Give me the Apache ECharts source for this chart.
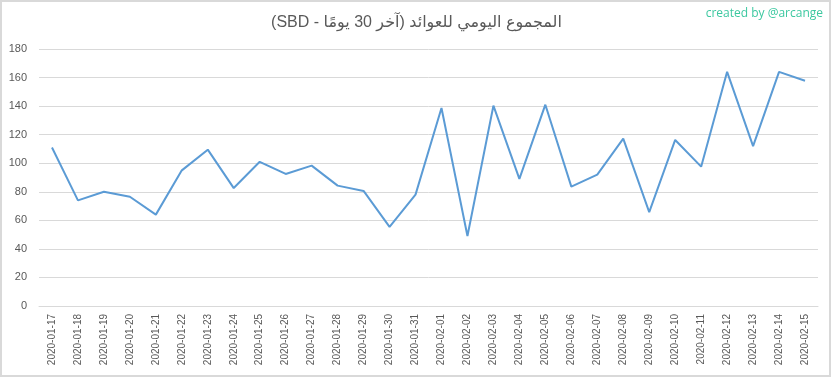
<!DOCTYPE html>
<html><head><meta charset="utf-8">
<script src="https://cdn.jsdelivr.net/npm/echarts@6/dist/echarts.min.js"></script>
<style>html,body{margin:0;padding:0;background:#fff}#c{width:833px;height:379px}</style>
</head><body><div id="c"></div>
<script>
const categories = ["2020-01-17","2020-01-18","2020-01-19","2020-01-20","2020-01-21","2020-01-22","2020-01-23","2020-01-24","2020-01-25","2020-01-26","2020-01-27","2020-01-28","2020-01-29","2020-01-30","2020-01-31","2020-02-01","2020-02-02","2020-02-03","2020-02-04","2020-02-05","2020-02-06","2020-02-07","2020-02-08","2020-02-09","2020-02-10","2020-02-11","2020-02-12","2020-02-13","2020-02-14","2020-02-15"];
const values = [111,74,80,76.5,64,95,109.5,82.6,101,92.5,98.3,84.3,80.6,55.4,78,138.7,49,140.3,89,141,83.6,92,117.2,65.8,116.3,97.6,164,112,164,157.8];
const titleText = "المجموع اليومي للعوائد (آخر 30 يومًا - SBD)";
const watermark = "created by @arcange";

const chart = echarts.init(document.getElementById('c'), null, {renderer:'canvas'});
chart.setOption({
  animation:false,
  backgroundColor:'#fff',
  title:{text:'\u202B' + titleText + '\u202C',left:'center',top:10,textStyle:{fontFamily:'Liberation Sans, DejaVu Sans',fontSize:16,fontWeight:'normal',color:'#595959'}},
  graphic:[
    {type:'rect',shape:{x:1,y:1,width:829,height:375},style:{fill:'none',stroke:'#d9d9d9',lineWidth:2},silent:true},
    {type:'text',right:10,top:8,style:{text:watermark,fontFamily:'Open Sans',fontSize:12,fill:'#3cc8a0'}}
  ],
  grid:{left:39,right:15,top:49,bottom:73},
  xAxis:{type:'category',data:categories,boundaryGap:true,
    axisLine:{lineStyle:{color:'#d9d9d9'}},axisTick:{show:false},
    axisLabel:{rotate:90,interval:0,fontFamily:'Liberation Sans',fontSize:10,color:'#595959',margin:8}},
  yAxis:{type:'value',min:0,max:180,interval:20,
    axisLine:{show:false},axisTick:{show:false},
    splitLine:{lineStyle:{color:'#d9d9d9'}},
    axisLabel:{fontFamily:'Liberation Sans',fontSize:11,color:'#595959',margin:12}},
  series:[{type:'line',data:values,symbol:'none',lineStyle:{color:'#5b9bd5',width:2}}]
});
</script></body></html>
